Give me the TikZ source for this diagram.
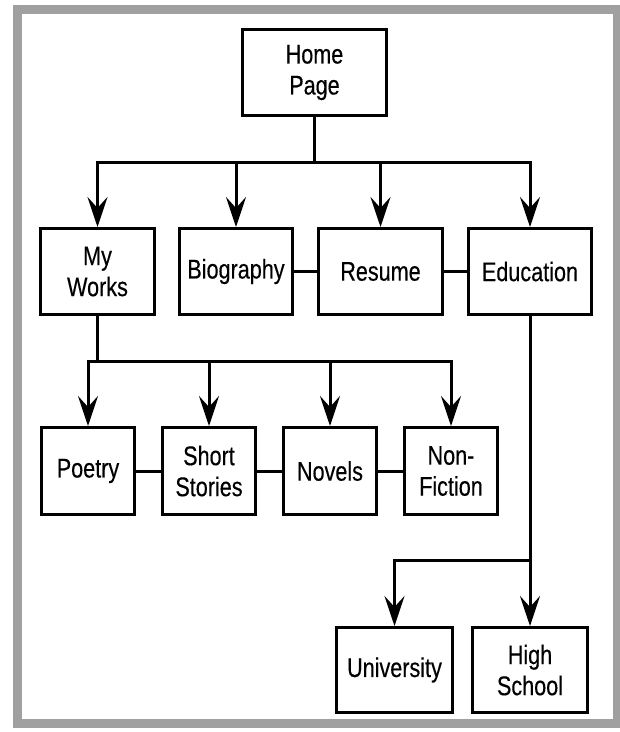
\documentclass[tikz,border=0pt]{standalone}
\usepackage{fontspec}
\setmainfont{Liberation Sans}[FakeStretch=0.8,FakeBold=0.3]
\usetikzlibrary{arrows.meta}
\begin{document}
\begin{tikzpicture}[x=1pt,y=-1pt,
  box/.style={draw=black,line width=3pt,inner sep=0pt,align=center,
    font=\fontsize{27}{31}\selectfont,minimum height=#1},
  box/.default=86pt,
  conn/.style={draw=black,line width=3pt},
  arr/.style={conn,-{Stealth[length=30pt,width=20pt,inset=11pt]}}]
\useasboundingbox (0,0) rectangle (620,732);
\fill[white] (0,0) rectangle (620,732);
\draw[line width=9pt,draw={rgb,255:red,160;green,160;blue,160}] (17.5,9.5) rectangle (617,723);
% nodes
\node[box,minimum width=144pt] (home) at (314.5,72.5) {Home\\Page};
\node[box,minimum width=114pt] (works) at (97.5,271.5) {My\\Works};
\node[box,minimum width=113pt] (bio) at (236,271.5) {Biography};
\node[box,minimum width=124pt] (resume) at (380.5,271.5) {Resume};
\node[box,minimum width=123pt] (edu) at (530,271.5) {Education};
\node[box=87pt,minimum width=93pt] (poetry) at (88,471) {Poetry};
\node[box=87pt,minimum width=93pt] (short) at (209,471) {Short\\Stories};
\node[box=87pt,minimum width=93pt] (novels) at (330,471) {Novels};
\node[box=87pt,minimum width=93pt] (nonfic) at (451,471) {Non-\\Fiction};
\node[box=85pt,minimum width=116pt] (univ) at (394.5,670) {University};
\node[box=85pt,minimum width=115pt] (high) at (530,670) {High\\School};
% junction coordinates
\coordinate (j1) at (314.5,162);
\coordinate (j2) at (97.5,361);
\coordinate (j3) at (530,560);
% top tree
\draw[conn] (home.south) -- (j1);
\draw[arr] (j1) -| (works.north);
\draw[arr] (j1) -| (bio.north);
\draw[arr] (j1) -| (resume.north);
\draw[arr] (j1) -| (edu.north);
% side links row 1
\draw[conn] (bio.east) -- (resume.west);
\draw[conn] (resume.east) -- (edu.west);
% works tree
\draw[conn] (works.south) -- (j2);
\draw[arr] (j2) -| (poetry.north);
\draw[arr] (j2) -| (short.north);
\draw[arr] (j2) -| (novels.north);
\draw[arr] (j2) -| (nonfic.north);
% side links row 2
\draw[conn] (poetry.east) -- (short.west);
\draw[conn] (short.east) -- (novels.west);
\draw[conn] (novels.east) -- (nonfic.west);
% education tree
\draw[arr] (edu.south) -- (high.north);
\draw[arr] (j3) -| (univ.north);
\end{tikzpicture}
\end{document}
